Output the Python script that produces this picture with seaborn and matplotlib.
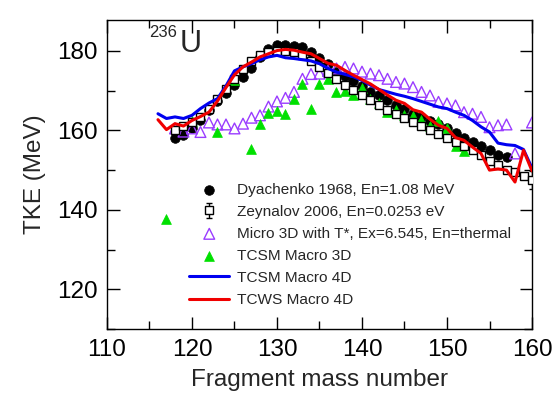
import numpy as np
import pandas as pd
import matplotlib
matplotlib.use("Agg")
import matplotlib.pyplot as plt
import seaborn as sns

# ---------------- data ----------------
dya_mass = list(range(118, 158))
dya_tke = [158.0, 158.8, 160.5, 162.7, 165.2, 167.4, 169.4, 171.4, 173.5, 175.8,
           178.5, 180.6, 181.5, 181.5, 181.3, 181.0, 179.8, 178.3, 176.8, 174.7,
           173.6, 172.4, 171.1, 169.7, 168.8, 167.6, 166.3, 165.5, 164.2, 163.4,
           162.4, 161.6, 160.6, 159.3, 158.0, 157.1, 156.2, 155.0, 153.8, 153.2]

zey_mass = list(range(118, 161))
zey_tke = [160.0, 161.0, 162.0, 163.5, 165.5, 168.0, 170.5, 173.0, 175.5, 177.5,
           179.0, 179.8, 180.0, 180.0, 179.8, 179.0, 177.5, 176.0, 174.5, 173.0,
           171.5, 170.2, 168.8, 167.6, 166.3, 165.2, 164.2, 163.0, 162.0, 161.0,
           160.0, 159.0, 158.0, 157.0, 156.0, 155.0, 153.8, 152.3, 151.2, 150.0,
           149.5, 148.5, 147.5]
zey_err = [0.0] * 42 + [2.3]

micro_mass = list(range(118, 159)) + [160]
micro_tke = [160.5, 159.7, 160.5, 159.6, 162.0, 161.5, 161.5, 160.5, 161.7, 163.2,
             163.8, 166.0, 167.3, 168.2, 169.7, 173.0, 174.2, 174.3, 175.0, 175.6,
             176.0, 175.6, 174.8, 174.3, 173.9, 173.0, 172.2, 171.8, 170.9, 169.7,
             168.8, 167.2, 166.8, 166.3, 164.6, 164.2, 163.4, 160.8, 161.3, 161.5,
             154.2, 162.0]

m3d_mass = [117, 120, 123, 125, 127, 128, 129, 130, 131, 132, 133, 134, 135, 136,
            137, 138, 139, 140, 141, 142, 143, 144, 145, 146, 147, 148, 149, 150,
            151, 152]
m3d_tke = [137.8, 162.3, 159.6, 172.6, 155.2, 161.7, 164.5, 164.8, 164.1, 167.8,
           171.8, 165.5, 171.6, 172.9, 169.6, 169.9, 168.8, 170.8, 167.8, 166.9,
           164.6, 165.1, 163.8, 163.6, 162.7, 161.0, 162.3, 160.5, 156.1, 154.7]

line_mass = list(range(116, 161))
tcsm4d_tke = [164.2, 163.0, 163.4, 163.0, 163.8, 165.5, 166.9, 168.0, 171.2, 175.0,
              176.0, 176.8, 177.8, 178.5, 178.9, 178.3, 178.1, 177.8, 177.5, 176.8,
              175.6, 174.7, 174.1, 173.5, 172.6, 171.4, 170.3, 169.7, 169.1, 168.6,
              168.0, 167.3, 166.6, 165.9, 165.5, 164.6, 163.8, 162.5, 160.9, 159.6,
              156.8, 156.4, 156.2, 155.2, 150.5]
tcws4d_tke = [162.7, 160.2, 161.7, 161.1, 162.5, 163.5, 164.6, 167.4, 170.8, 174.0,
              176.0, 177.2, 178.5, 179.3, 180.1, 180.4, 180.2, 179.7, 179.3, 178.1,
              176.9, 176.4, 175.1, 173.9, 172.8, 171.7, 170.3, 168.9, 167.6, 166.8,
              165.2, 164.6, 162.8, 161.3, 160.5, 158.2, 157.5, 155.8, 154.2, 150.0,
              150.3, 150.0, 147.0, 155.0, 149.8]

labels = ["Dyachenko 1968, En=1.08 MeV",
          "Zeynalov 2006, En=0.0253 eV",
          "Micro 3D with T*, Ex=6.545, En=thermal",
          "TCSM Macro 3D",
          "TCSM Macro 4D",
          "TCWS Macro 4D"]
xticks = [110, 120, 130, 140, 150, 160]
yticks = [120, 140, 160, 180]

# ---------------- style ----------------
sns.set_style("ticks")
plt.rcParams["font.family"] = ["Liberation Sans", "DejaVu Sans"]

fig = plt.figure(figsize=(5.54, 4.01), dpi=100)
ax = fig.add_axes([0.1931, 0.1796, 0.9603 - 0.1931, 0.9501 - 0.1796])

PURPLE = "#9a3cff"
GREEN = "#00e000"
BLUE = "#0000f0"
RED = "#f00000"

sns.scatterplot(x=dya_mass, y=dya_tke, ax=ax, marker="o", color="black",
                edgecolor="black", s=48, linewidth=0.5, label=labels[0], zorder=3)
ax.errorbar(zey_mass, zey_tke, yerr=zey_err, fmt="s", ms=6.2, mfc="white",
            mec="black", mew=1.0, ecolor="black", elinewidth=1.0, capsize=2.5,
            label=labels[1], zorder=3)
sns.scatterplot(x=micro_mass, y=micro_tke, ax=ax, marker="^", color=PURPLE,
                edgecolor=PURPLE, s=60, linewidth=1.0, label=labels[2], zorder=3)
ax.collections[-1].set_facecolor("none")
sns.scatterplot(x=m3d_mass, y=m3d_tke, ax=ax, marker="^", color=GREEN,
                edgecolor=GREEN, s=50, linewidth=0.5, label=labels[3], zorder=3)
sns.lineplot(x=line_mass, y=tcsm4d_tke, ax=ax, color=BLUE, linewidth=2.2,
             label=labels[4], zorder=4)
sns.lineplot(x=line_mass, y=tcws4d_tke, ax=ax, color=RED, linewidth=2.2,
             label=labels[5], zorder=5)

ax.set_xlim(110, 160)
ax.set_ylim(110, 187.8)
ax.set_xticks(xticks)
ax.set_yticks(yticks)
ax.set_xticks(np.arange(115, 160, 10), minor=True)
ax.set_yticks(np.arange(110, 190, 10), minor=True)
ax.tick_params(which="both", direction="in", top=True, right=True,
               bottom=True, left=True, labelsize=17.5, width=1.0,
               color="black", labelcolor="black", pad=7)
ax.tick_params(which="major", length=9)
ax.tick_params(which="minor", length=5.5)
for sp in ax.spines.values():
    sp.set_linewidth(1.0)
    sp.set_color("black")
    sp.set_visible(True)

ax.set_xlabel("Fragment mass number", fontsize=17.5, labelpad=6)
ax.set_ylabel("TKE (MeV)", fontsize=17.5, labelpad=8)

ax.text(115.0, 183.4, "236", fontsize=12, va="baseline", ha="left")
ax.text(118.6, 179.8, "U", fontsize=22, va="baseline", ha="left")

handles, labs = ax.get_legend_handles_labels()
order = [labs.index(l) for l in labels]
leg = ax.legend([handles[i] for i in order], [labs[i] for i in order],
                loc="upper left", bbox_to_anchor=(0.179, 0.493), frameon=False,
                fontsize=11.1, handlelength=2.6, handletextpad=0.5,
                labelspacing=0.52, scatterpoints=1, borderaxespad=0)

fig.savefig("out.png", dpi=100)
